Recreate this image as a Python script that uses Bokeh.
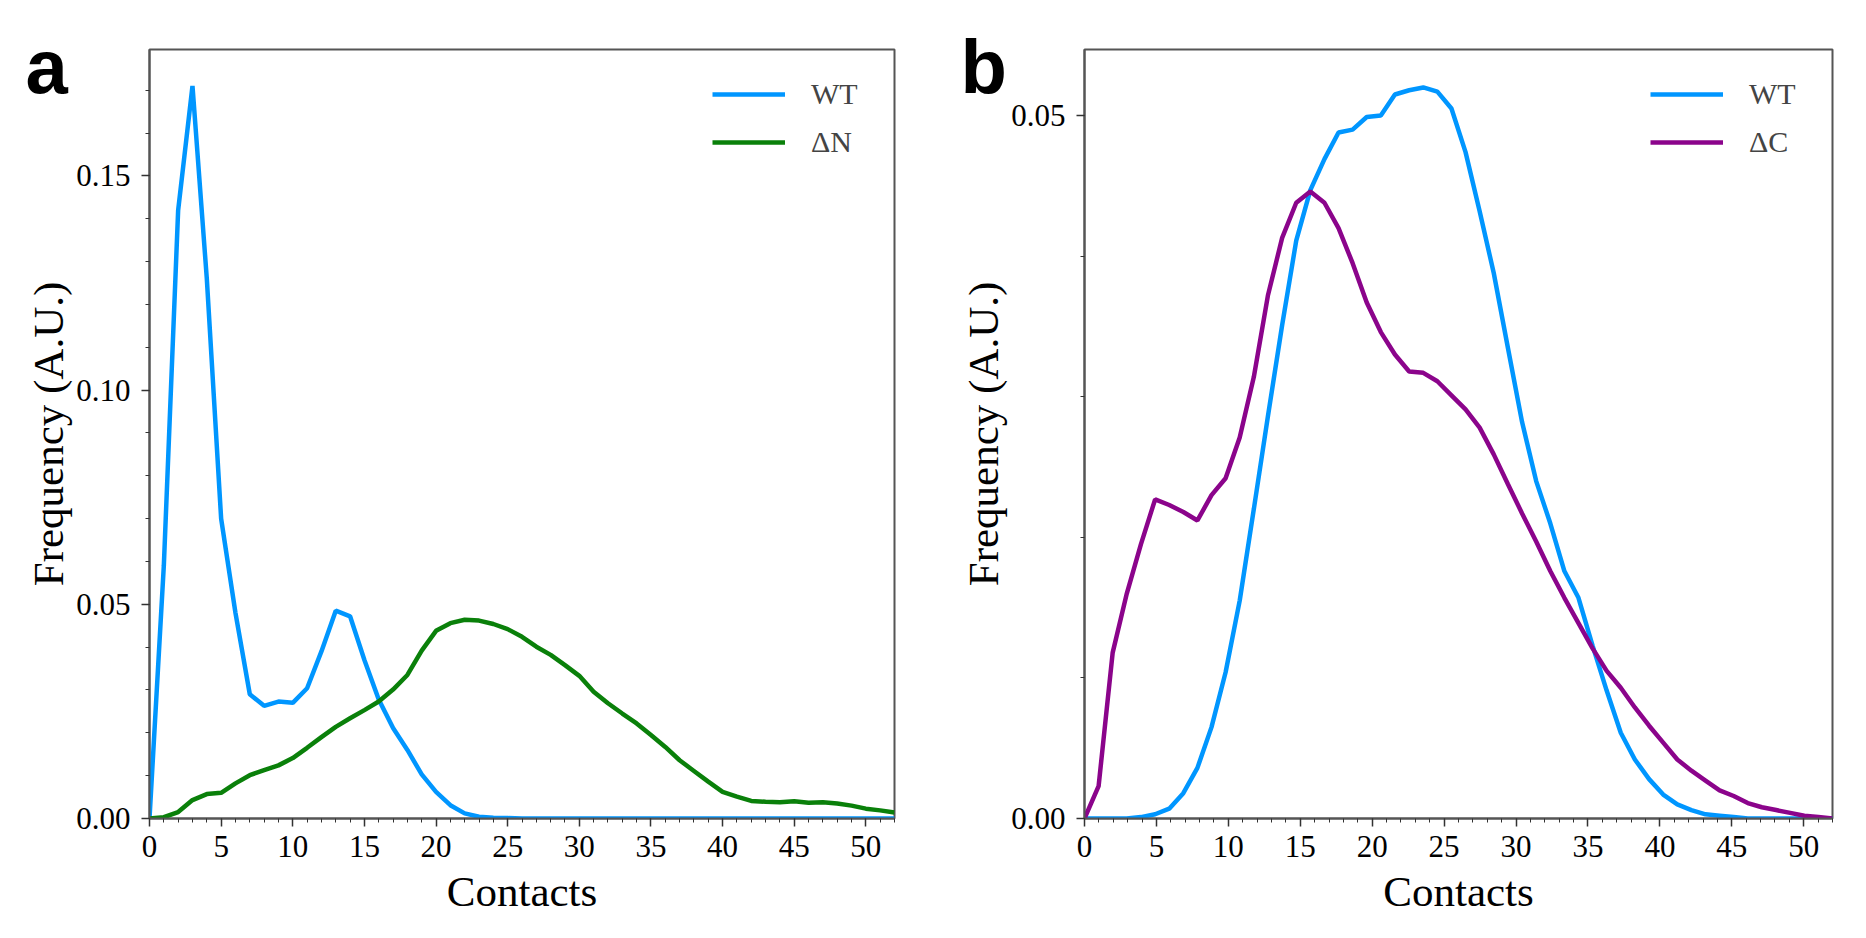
from bokeh.plotting import figure
from bokeh.models import Range1d, FixedTicker, NumeralTickFormatter, Title
from bokeh.layouts import row
from bokeh.embed import file_html
from bokeh.resources import INLINE

# datos
contacts_a = list(range(53))
wt_a = [0, 0.059, 0.142, 0.171, 0.126, 0.070, 0.048, 0.029, 0.0263, 0.0273,
        0.027, 0.0304, 0.039, 0.0485, 0.0472, 0.037, 0.0278, 0.0211, 0.016, 0.0103,
        0.0062, 0.0031, 0.0012, 0.0004, 0.0002, 0.0001] + [0] * 27
dn_a = [0, 0.0003, 0.0015, 0.0043, 0.0057, 0.006, 0.0082, 0.0101, 0.0113, 0.0124,
        0.0141, 0.0165, 0.019, 0.0214, 0.0234, 0.0253, 0.0273, 0.0301, 0.0335, 0.0392,
        0.0438, 0.0456, 0.0464, 0.0462, 0.0454, 0.0442, 0.0424, 0.0401, 0.0382, 0.0358,
        0.0333, 0.0296, 0.0269, 0.0245, 0.0222, 0.0195, 0.0167, 0.0136, 0.0111, 0.0086,
        0.0062, 0.0051, 0.0041, 0.0039, 0.0038, 0.004, 0.0037, 0.0038, 0.0035, 0.003,
        0.0023, 0.0019, 0.0014]

contacts_b = [0, 0.98, 1.96, 2.94, 3.92, 4.91, 5.89, 6.87, 7.85, 8.83,
              9.81, 10.79, 11.77, 12.75, 13.74, 14.72, 15.70, 16.68, 17.66, 18.64,
              19.62, 20.60, 21.58, 22.57, 23.55, 24.53, 25.51, 26.49, 27.47, 28.45,
              29.43, 30.42, 31.40, 32.38, 33.36, 34.34, 35.32, 36.30, 37.28, 38.26,
              39.25, 40.23, 41.21, 42.19, 43.17, 44.15, 45.13, 46.11, 47.09, 48.08,
              49.06, 50.04, 51.02, 52.0]
wt_b = [0, 0, 0, 0, 0.0001, 0.0003, 0.0007, 0.0018, 0.0036, 0.0065,
        0.0104, 0.0155, 0.022, 0.0286, 0.0351, 0.0411, 0.0447, 0.0469, 0.0488, 0.049,
        0.0499, 0.05, 0.0515, 0.0518, 0.052, 0.0517, 0.0505, 0.0474, 0.0432, 0.0388,
        0.0335, 0.0282, 0.024, 0.021, 0.0176, 0.0157, 0.0123, 0.0091, 0.0061, 0.0042,
        0.0028, 0.0017, 0.001, 0.0006, 0.0003, 0.0002, 0.0001] + [0] * 7
dc_b = [0, 0.0023, 0.0118, 0.016, 0.0195, 0.0227, 0.0223, 0.0218, 0.0212, 0.023,
        0.0242, 0.0271, 0.0314, 0.0372, 0.0413, 0.0438, 0.0446, 0.0438, 0.042, 0.0395,
        0.0367, 0.0346, 0.033, 0.0318, 0.0317, 0.0311, 0.0301, 0.0291, 0.0278, 0.0259,
        0.0238, 0.0217, 0.0197, 0.0176, 0.0157, 0.0139, 0.0121, 0.0105, 0.0093, 0.0079,
        0.0066, 0.0054, 0.0042, 0.0034, 0.0027, 0.002, 0.0016, 0.0011, 0.0008, 0.0006,
        0.0004, 0.0002, 0.0001, 0]

x_ticks = [0, 5, 10, 15, 20, 25, 30, 35, 40, 45, 50]
y_ticks_a = [0.0, 0.05, 0.10, 0.15]
y_ticks_b = [0.0, 0.05]

BLUE = "#0096ff"
GREEN = "#0a800a"
PURPLE = "#8b048b"
SERIF = "Liberation Serif"


def panel(letter, ymax, yticks, fw, left, right):
    p = figure(frame_width=fw, frame_height=769,
               min_border_left=left, min_border_right=right,
               min_border_top=49, min_border_bottom=105,
               x_range=Range1d(0, 52), y_range=Range1d(0, ymax),
               output_backend="svg", toolbar_location=None)
    p.grid.visible = False
    p.outline_line_color = "#555555"
    p.outline_line_width = 2
    p.background_fill_color = "white"
    p.border_fill_color = "white"

    p.xaxis.ticker = FixedTicker(ticks=x_ticks, minor_ticks=list(range(53)))
    p.yaxis.ticker = FixedTicker(ticks=yticks,
                                 minor_ticks=[i / 100 for i in range(int(ymax * 100) + 1)])
    p.yaxis.formatter = NumeralTickFormatter(format="0.00")
    for ax in (p.xaxis[0], p.yaxis[0]):
        ax.axis_line_color = "#555555"
        ax.axis_line_width = 2
        ax.major_tick_in = 0
        ax.major_tick_out = 8
        ax.minor_tick_in = 0
        ax.minor_tick_out = 4
        ax.major_tick_line_color = "#333333"
        ax.minor_tick_line_color = "#333333"
        ax.major_tick_line_width = 1.5
        ax.major_label_text_font = SERIF
        ax.major_label_text_font_size = "31px"
        ax.major_label_text_color = "black"
        ax.axis_label_text_font = SERIF
        ax.axis_label_text_font_size = "43px"
        ax.axis_label_text_font_style = "normal"
        ax.axis_label_text_color = "black"
    p.xaxis.axis_label = "Contacts"
    p.xaxis.major_label_standoff = 9
    p.xaxis.axis_label_standoff = 8
    p.yaxis.axis_label = "Frequency (A.U.)"
    p.yaxis.major_label_standoff = 11
    p.yaxis.axis_label_standoff = 1

    # letra del panel: título corrido hacia abajo y a la izquierda del marco
    p.add_layout(Title(text=letter, align="left", offset=-124, standoff=-118,
                       text_font="Liberation Sans", text_font_style="bold",
                       text_font_size="76px", text_color="black"), "above")
    return p


def style_legend(p):
    lg = p.legend[0]
    lg.location = "top_right"
    lg.border_line_color = None
    lg.background_fill_alpha = 0
    lg.label_text_font = SERIF
    lg.label_text_font_size = "30px"
    lg.glyph_width = 73
    lg.glyph_height = 40
    lg.label_height = 40
    lg.label_width = 58
    lg.label_standoff = 26
    lg.spacing = 8
    lg.margin = 25
    lg.padding = 6


pa = panel("a", 0.1795, y_ticks_a, 745, 149, 60)
pa.line(contacts_a, wt_a, color=BLUE, line_width=4.5, legend_label="WT")
pa.line(contacts_a, dn_a, color=GREEN, line_width=4.5, legend_label="ΔN")
style_legend(pa)

pb = panel("b", 0.0547, y_ticks_b, 748, 130, 10)
pb.line(contacts_b, wt_b, color=BLUE, line_width=4.5, legend_label="WT")
pb.line(contacts_b, dc_b, color=PURPLE, line_width=4.5, legend_label="ΔC")
style_legend(pb)

layout = row(pa, pb, spacing=0)
open("out.html", "w").write(file_html(layout, INLINE))
